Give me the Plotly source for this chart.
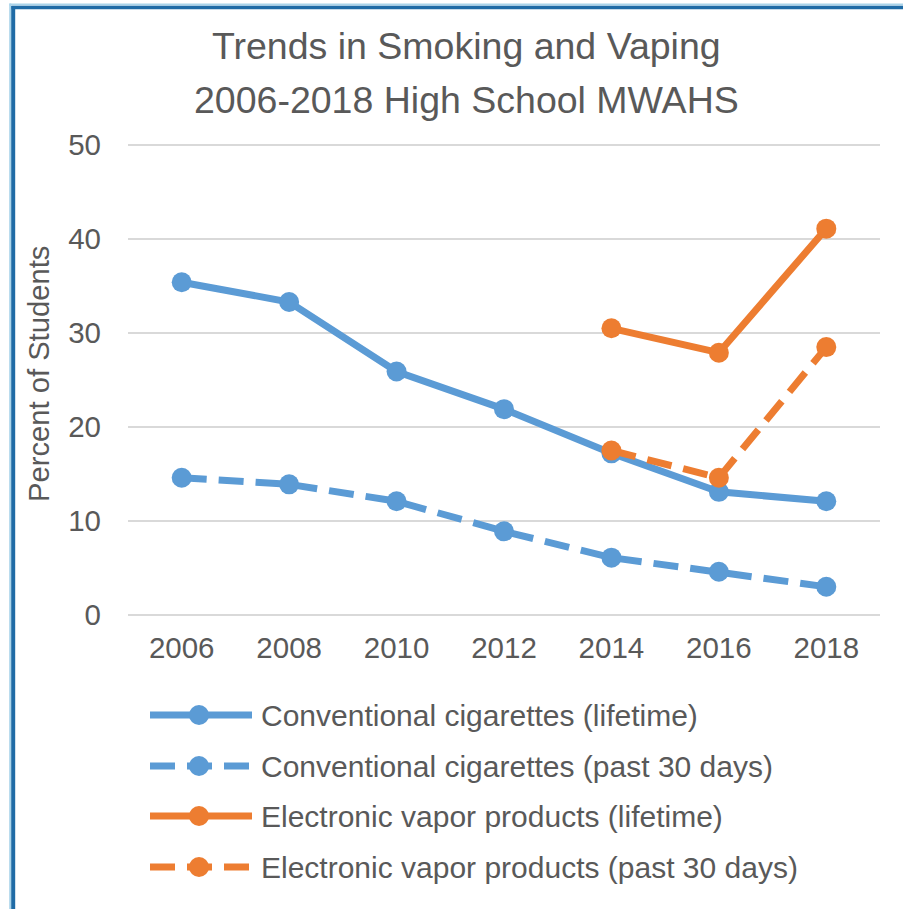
import plotly.graph_objects as go

# ---- data -------------------------------------------------------------
years = [2006, 2008, 2010, 2012, 2014, 2016, 2018]

cig_lifetime = [35.4, 33.3, 25.9, 21.9, 17.2, 13.1, 12.1]
cig_30days = [14.6, 13.9, 12.1, 8.9, 6.1, 4.6, 3.0]
vape_lifetime = [None, None, None, None, 30.5, 27.9, 41.1]
vape_30days = [None, None, None, None, 17.5, 14.6, 28.5]

series_names = [
    "Conventional cigarettes (lifetime)",
    "Conventional cigarettes (past 30 days)",
    "Electronic vapor products (lifetime)",
    "Electronic vapor products (past 30 days)",
]
series_values = [cig_lifetime, cig_30days, vape_lifetime, vape_30days]

y_ticks = [0, 10, 20, 30, 40, 50]

title_lines = ["Trends in Smoking and Vaping", "2006-2018 High School MWAHS"]
y_title = "Percent of Students"

# ---- styling ----------------------------------------------------------
BLUE = "#5B9BD5"
ORANGE = "#ED7D31"
TEXT = "#595959"
GRID = "#D9D9D9"
FONT = "Liberation Sans, Arial, sans-serif"

series_colors = [BLUE, BLUE, ORANGE, ORANGE]
series_dash = ["solid", "25px,12px", "solid", "25px,12px"]
LINE_W = 7
MARKER = 20

W, H = 903, 909
# plot area in pixels (value 0 at PB, value 50 at PT)
PL, PR, PT, PB = 128, 880, 145, 615
Y_MIN, Y_MAX = 0, 50
Y_PAD = 0.3  # small overshoot so the edge gridlines are drawn
PX_PER_UNIT = (PB - PT) / (Y_MAX - Y_MIN)


def px(x):
    return x / W


def py(y):
    return 1 - y / H


fig = go.Figure()

for name, vals, col, dash in zip(series_names, series_values, series_colors, series_dash):
    fig.add_trace(go.Scatter(
        x=years, y=vals, name=name, mode="lines+markers",
        line=dict(color=col, width=LINE_W, dash=dash),
        marker=dict(color=col, size=MARKER),
        connectgaps=False, showlegend=False,
        xaxis="x", yaxis="y",
    ))

# ---- legend rows drawn on a pixel-scaled overlay axis ----------------
LEG_X0, LEG_X1, LEG_XM = 150, 252, 199
LEG_TEXT_X = 259
leg_rows = [715, 766, 816, 867]

for name, col, dash, ry in zip(series_names, series_colors, series_dash, leg_rows):
    fig.add_trace(go.Scatter(
        x=[LEG_X0, LEG_X1], y=[ry, ry], mode="lines",
        line=dict(color=col, width=LINE_W, dash=dash),
        showlegend=False, hoverinfo="skip", xaxis="x2", yaxis="y2",
    ))
    fig.add_trace(go.Scatter(
        x=[LEG_XM], y=[ry], mode="markers",
        marker=dict(color=col, size=MARKER),
        showlegend=False, hoverinfo="skip", xaxis="x2", yaxis="y2",
    ))
    fig.add_annotation(
        x=px(LEG_TEXT_X), y=py(ry), xref="paper", yref="paper",
        text=name, showarrow=False, xanchor="left", yanchor="middle",
        font=dict(family=FONT, size=30, color=TEXT),
    )

# ---- titles -----------------------------------------------------------
for line, cy in zip(title_lines, [46, 100]):
    fig.add_annotation(
        x=px(466), y=py(cy), xref="paper", yref="paper",
        text=line, showarrow=False, xanchor="center", yanchor="middle",
        font=dict(family=FONT, size=37.5, color=TEXT),
    )

fig.add_annotation(
    x=px(39), y=py(374), xref="paper", yref="paper",
    text=y_title, showarrow=False, textangle=-90,
    xanchor="center", yanchor="middle",
    font=dict(family=FONT, size=29.2, color=TEXT),
)

# ---- chart frame (left and top edges) ---------------------------------
frame = [
    dict(x0=10.2, x1=10.2, y0=3.5, y1=H, color="#A9D4EA", w=2),
    dict(x0=9.5, x1=W, y0=4.5, y1=4.5, color="#A9D4EA", w=2),
    dict(x0=13.2, x1=13.2, y0=6, y1=H, color="#1F6BA6", w=4),
    dict(x0=11.5, x1=W, y0=7.5, y1=7.5, color="#1F6BA6", w=3.6),
]
for f in frame:
    fig.add_shape(
        type="line", xref="paper", yref="paper",
        x0=px(f["x0"]), x1=px(f["x1"]), y0=py(f["y0"]), y1=py(f["y1"]),
        line=dict(color=f["color"], width=f["w"]),
    )

pad_px = Y_PAD * PX_PER_UNIT

fig.update_layout(
    width=W, height=H,
    margin=dict(l=0, r=0, t=0, b=0, pad=0, autoexpand=False),
    paper_bgcolor="white", plot_bgcolor="rgba(0,0,0,0)",
    showlegend=False,
    font=dict(family=FONT, color=TEXT),
    xaxis=dict(
        domain=[px(PL), px(PR)], anchor="y", automargin=False,
        range=[2005, 2019], tickmode="array", tickvals=years,
        ticktext=[str(y) for y in years],
        showgrid=False, zeroline=False, showline=False, ticks="",
        tickfont=dict(family=FONT, size=29.5, color=TEXT),
        ticklabelstandoff=10, fixedrange=True,
    ),
    yaxis=dict(
        domain=[py(PB + pad_px), py(PT - pad_px)], anchor="x", automargin=False,
        range=[Y_MIN - Y_PAD, Y_MAX + Y_PAD], tickmode="array", tickvals=y_ticks,
        showgrid=True, gridcolor=GRID, gridwidth=2,
        zeroline=False, showline=False, ticks="",
        tickfont=dict(family=FONT, size=29.5, color=TEXT),
        ticklabelstandoff=26, fixedrange=True,
    ),
    xaxis2=dict(domain=[0, 1], anchor="y2", range=[0, W], visible=False,
                automargin=False, fixedrange=True),
    yaxis2=dict(domain=[0, 1], anchor="x2", range=[H, 0], visible=False,
                automargin=False, fixedrange=True),
)

fig.write_html("out.html")
